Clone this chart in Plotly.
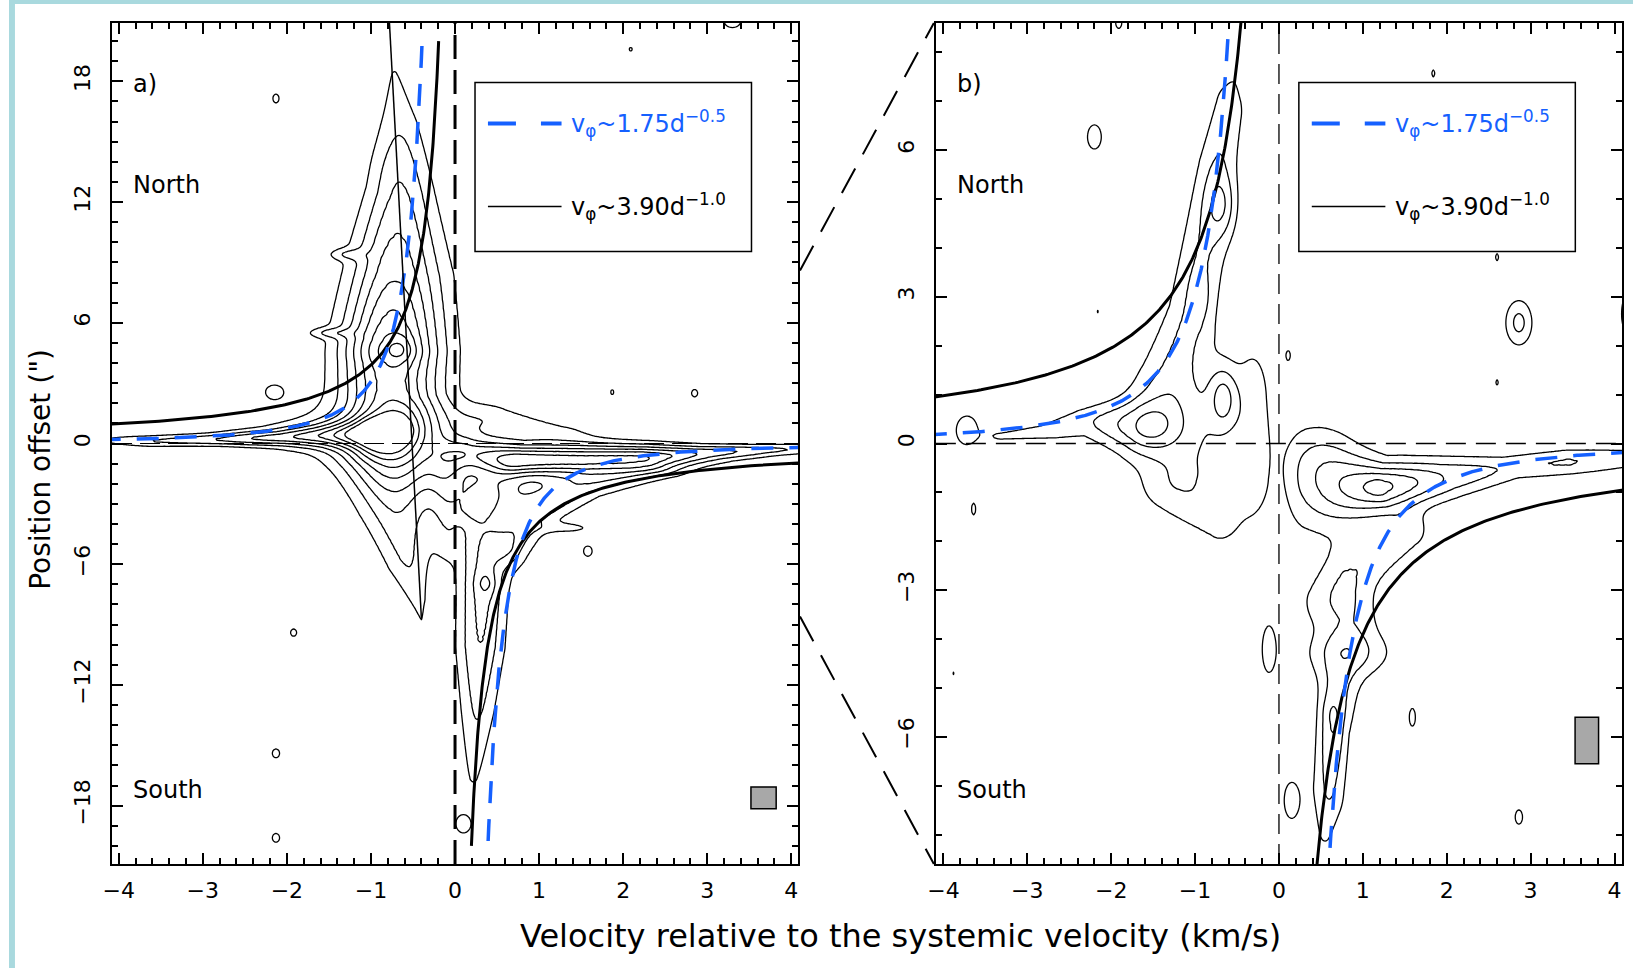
import numpy as np
import plotly.graph_objects as go

W, H = 1633, 968

# ------------------------------------------------------------------ data
x_ticks = [-4, -3, -2, -1, 0, 1, 2, 3, 4]
a_y_ticks = [-18, -12, -6, 0, 6, 12, 18]
b_y_ticks = [-6, -3, 0, 3, 6]

A_XRANGE = [-4.08, 4.08]
A_YRANGE = [-20.9, 20.9]
B_XRANGE = [-4.09, 4.09]
B_YRANGE = [-8.6, 8.6]

# rotation-curve models  v_phi = coef * d**pow
blue_model = (1.75, -0.5)
black_model = (3.90, -1.0)
model_dmax_a = 20.0
model_dmax_b = 8.7

# straight thin line in panel a (v, y)
thin_line_v = [-0.78, -0.40]
thin_line_y = [20.9, -8.7]

# beam boxes (v0, v1, y0, y1)
beam_a = [3.52, 3.82, -18.16, -17.07]
beam_b = [3.53, 3.81, -6.55, -5.60]

# emission structures read from the contour map:
# each is a ridge through nodes (v [km/s], offset ["], width_v, width_y, peak)
a_left_arm = [(-4.05, 0.15, 0.25, 0.22, 1.15), (-3.6, 0.12, 0.3, 0.22, 2.0),
              (-2.8, 0.2, 0.3, 0.22, 2.8), (-2.0, 0.3, 0.3, 0.28, 3.6),
              (-1.5, 0.4, 0.3, 0.4, 4.5), (-1.0, 0.5, 0.3, 0.55, 5.5)]
a_halo_w = [(-2.2, 0.35, 0.4, 0.45, 1.0), (-1.5, 0.5, 0.45, 0.9, 1.5),
            (-1.0, 0.6, 0.4, 1.3, 2.0)]
a_core = [(-0.65, 1.2, 0.3, 1.0, 2.5)]
a_north_arm = [(-0.45, -0.3, 0.4, 1.5, 3.0), (-0.7, 2.5, 0.42, 1.5, 4.5),
               (-0.72, 4.6, 0.4, 1.5, 6.8), (-0.65, 8.0, 0.37, 1.5, 4.5),
               (-0.62, 12.0, 0.26, 1.5, 3.0), (-0.66, 15.5, 0.2, 1.2, 1.8),
               (-0.72, 18.3, 0.1, 0.6, 1.05)]
a_north_halo = [(-1.05, 3.5, 0.3, 1.2, 0.9), (-0.95, 9.0, 0.25, 1.5, 0.8),
                (-0.85, 13.0, 0.2, 1.5, 0.5)]
a_north_peak = [(-0.65, 4.7, 0.12, 0.5, 1.2)]
a_spike1 = [(-1.5, 5.5, 0.18, 0.18, 1.5)]
a_spike2 = [(-1.3, 9.4, 0.15, 0.2, 1.3)]
a_south_v = [(-0.85, -0.8, 0.35, 0.8, 3.5), (-0.72, -3.0, 0.3, 1.0, 2.8),
             (-0.58, -5.5, 0.2, 1.0, 2.2), (-0.44, -7.7, 0.1, 0.6, 1.4),
             (-0.4, -8.7, 0.04, 0.3, 1.02)]
a_center_link = [(-0.1, -1.5, 0.15, 1.2, 1.8), (-0.1, -4.5, 0.12, 1.0, 1.3)]
a_right_arm = [(0.2, -0.5, 0.2, 0.6, 3.5), (0.75, -0.8, 0.35, 0.55, 6.6),
               (1.5, -0.8, 0.4, 0.55, 6.4), (2.2, -0.7, 0.4, 0.45, 6.1),
               (2.8, -0.5, 0.45, 0.3, 4.0), (3.5, -0.35, 0.4, 0.22, 2.6),
               (4.2, -0.25, 0.3, 0.2, 1.6)]
a_right_halo = [(0.4, 1.2, 0.3, 0.6, 1.6), (1.1, 0.6, 0.4, 0.4, 1.2)]
a_right_low = [(0.45, -2.3, 0.3, 0.8, 2.2), (0.25, -3.2, 0.2, 0.5, 1.4)]
a_se_wing = [(2.2, -1.4, 0.35, 0.3, 1.8), (1.4, -2.2, 0.3, 0.45, 2.6),
             (0.9, -3.5, 0.2, 0.6, 2.6), (0.65, -5.0, 0.17, 0.8, 2.6)]
a_se_spike = [(1.35, -4.2, 0.25, 0.2, 1.2)]
a_south_spur = [(0.3, -3.5, 0.2, 1.0, 2.2), (0.33, -7.0, 0.2, 1.0, 3.4),
                (0.3, -10.0, 0.2, 1.0, 3.0), (0.27, -13.0, 0.16, 1.0, 2.2),
                (0.22, -16.6, 0.1, 0.5, 1.1)]
a_spur_peak = [(0.37, -6.95, 0.07, 0.4, 1.0)]
a_noise = [(-2.13, 17.15, 0.05, 0.3, 1.3), (-2.15, 2.56, 0.12, 0.4, 1.4),
           (-1.92, -9.4, 0.05, 0.25, 1.3), (-2.13, -15.4, 0.06, 0.3, 1.3),
           (-2.13, -19.6, 0.06, 0.3, 1.3), (1.87, 2.55, 0.03, 0.2, 1.2),
           (2.85, 2.5, 0.05, 0.25, 1.3), (2.09, 19.6, 0.03, 0.15, 1.2),
           (1.58, -5.35, 0.07, 0.35, 1.3), (0.1, -18.9, 0.1, 0.5, 1.5),
           (3.3, 21.0, 0.12, 0.4, 1.4)]

b_far_left = [(-3.72, 0.27, 0.13, 0.3, 1.6)]
b_left_arm = [(-3.3, 0.15, 0.15, 0.1, 1.2), (-2.7, 0.25, 0.25, 0.15, 1.5),
              (-2.2, 0.45, 0.3, 0.25, 1.8), (-1.6, 0.35, 0.3, 0.4, 3.6)]
b_center = [(-1.0, 0.2, 0.45, 0.9, 1.7)]
b_center_low = [(-1.2, -0.9, 0.35, 0.45, 1.3), (-0.7, -1.6, 0.2, 0.4, 1.3)]
b_north = [(-1.3, 1.3, 0.28, 0.5, 1.8), (-1.05, 2.5, 0.22, 0.6, 2.2),
           (-0.9, 4.0, 0.2, 0.6, 2.1), (-0.75, 5.5, 0.18, 0.6, 2.0),
           (-0.6, 6.8, 0.15, 0.5, 1.7), (-0.55, 7.3, 0.1, 0.3, 1.05)]
b_north_peak1 = [(-0.68, 4.85, 0.12, 0.45, 1.7)]
b_north_peak2 = [(-0.94, 3.0, 0.07, 0.3, 0.8)]
b_inner = [(-0.66, 0.95, 0.12, 0.45, 2.5)]
b_right_band = [(-0.3, -0.8, 0.15, 0.6, 1.3), (-0.3, 1.0, 0.15, 0.8, 1.3)]
b_right_main = [(0.35, -0.9, 0.2, 0.7, 2.0), (1.18, -0.9, 0.3, 0.35, 5.5),
                (1.9, -0.7, 0.35, 0.3, 3.0), (2.7, -0.5, 0.3, 0.2, 1.8),
                (3.45, -0.38, 0.25, 0.2, 2.1), (4.2, -0.3, 0.3, 0.2, 1.3)]
b_right_halo = [(0.5, -0.2, 0.3, 0.5, 1.0)]
b_right_spike = [(1.46, 0.5, 0.08, 0.3, 0.9)]
b_right_tail = [(1.5, -1.8, 0.2, 0.3, 1.8), (0.8, -2.7, 0.2, 0.5, 1.8),
                (0.5, -3.2, 0.2, 0.4, 1.2)]
b_south = [(0.85, -3.6, 0.25, 0.5, 1.5), (0.75, -4.6, 0.2, 0.5, 1.6),
           (0.65, -5.6, 0.13, 0.6, 3.2), (0.6, -7.0, 0.14, 0.6, 2.2),
           (0.55, -7.95, 0.1, 0.3, 1.2)]
b_south_wide = [(0.85, -4.3, 0.4, 0.35, 1.5)]
b_south_left = [(0.15, -7.3, 0.12, 0.5, 1.3)]
b_island = [(-0.12, -4.2, 0.09, 0.55, 1.4)]
b_noise = [(-2.2, 6.27, 0.1, 0.3, 1.4), (1.84, 7.57, 0.03, 0.12, 1.2),
           (2.6, 3.81, 0.03, 0.12, 1.2), (2.86, 2.47, 0.12, 0.35, 2.3),
           (0.11, 1.8, 0.04, 0.15, 1.2), (2.6, 1.25, 0.03, 0.1, 1.15),
           (4.15, 2.65, 0.08, 0.45, 1.4), (-3.64, -1.34, 0.04, 0.2, 1.2),
           (1.59, -5.6, 0.05, 0.25, 1.3), (2.86, -7.64, 0.06, 0.2, 1.3),
           (-1.91, 8.6, 0.05, 0.15, 1.3), (3.35, -2.86, 0.02, 0.06, 1.1),
           (-3.88, -4.7, 0.02, 0.06, 1.1), (-2.16, 2.7, 0.02, 0.06, 1.1)]

contour_levels = dict(start=1, end=8, size=1)

A_FEATURES = [a_left_arm, a_halo_w, a_core, a_north_arm, a_north_halo, a_north_peak,
              a_spike1, a_spike2, a_south_v, a_center_link, a_right_arm, a_right_halo,
              a_right_low, a_se_wing, a_se_spike, a_south_spur, a_spur_peak] + [[n] for n in a_noise]
B_FEATURES = [b_far_left, b_left_arm, b_center, b_center_low, b_north, b_north_peak1,
              b_north_peak2, b_inner, b_right_band, b_right_main, b_right_halo,
              b_right_spike, b_right_tail, b_south, b_south_wide, b_south_left,
              b_island] + [[n] for n in b_noise]

# ------------------------------------------------------------------ layout geometry (pixels)
PANEL_A = (103.6, 23.0, 793.4, 864.0)   # left, top, right, bottom
PANEL_B = (932.0, 23.0, 1622.0, 864.0)
BLUE = "#1560ff"
FONT = "DejaVu Sans"


def px(x):
    return x / W


def py(y):
    return 1 - y / H


def build_map(vg, yg, features):
    Z = np.zeros((len(yg), len(vg)))
    for nodes in features:
        nodes = np.array(nodes, float)
        samples = [nodes[0]]
        for p, q in zip(nodes[:-1], nodes[1:]):
            n = int(np.ceil(max(abs(q[0] - p[0]) / (0.3 * min(p[2], q[2])),
                                abs(q[1] - p[1]) / (0.3 * min(p[3], q[3]))))) + 1
            t = np.linspace(0, 1, n)[1:]
            samples.extend(list(p + (q - p) * t[:, None]))
        S = np.array(samples)
        vmin = (S[:, 0] - 4.5 * S[:, 2]).min(); vmax = (S[:, 0] + 4.5 * S[:, 2]).max()
        ymin = (S[:, 1] - 4.5 * S[:, 3]).min(); ymax = (S[:, 1] + 4.5 * S[:, 3]).max()
        ix = np.where((vg >= vmin) & (vg <= vmax))[0]
        iy = np.where((yg >= ymin) & (yg <= ymax))[0]
        if len(ix) == 0 or len(iy) == 0:
            continue
        Vs, Ys = np.meshgrid(vg[ix], yg[iy])
        F = np.zeros_like(Vs)
        for s in S:
            F = np.maximum(F, s[4] * np.exp(-0.5 * (((Vs - s[0]) / s[2]) ** 2 +
                                                   ((Ys - s[1]) / s[3]) ** 2)))
        Z[np.ix_(iy, ix)] += F
    return Z


va = np.linspace(-4.2, 4.2, 421)
ya = np.linspace(-21.3, 21.3, 533)
vb = np.linspace(-4.2, 4.2, 421)
yb = np.linspace(-8.8, 8.8, 441)
Za = np.round(build_map(va, ya, A_FEATURES), 3)
Zb = np.round(build_map(vb, yb, B_FEATURES), 3)

fig = go.Figure()


def add_contour(vg, yg, Z, xa, ya_):
    fig.add_trace(go.Contour(
        x=vg, y=yg, z=Z, xaxis=xa, yaxis=ya_,
        contours=dict(coloring="lines", showlabels=False, **contour_levels),
        colorscale=[[0, "black"], [1, "black"]], showscale=False,
        line=dict(width=1.3, smoothing=1.0), hoverinfo="skip"))


add_contour(va, ya, Za, "x", "y")
add_contour(vb, yb, Zb, "x2", "y2")


def add_models(xa, ya_, dmax, blue_w, black_w):
    d = np.geomspace(0.02, dmax, 500)
    for (coef, pw), style in ((black_model, dict(color="black", width=black_w)),
                              (blue_model, dict(color=BLUE, width=blue_w, dash="22px,16px"))):
        v = coef * d ** pw
        # north side: approaching (negative v); south side: receding
        fig.add_trace(go.Scatter(x=-v, y=d, mode="lines", line=style, xaxis=xa, yaxis=ya_,
                                 hoverinfo="skip", showlegend=False))
        fig.add_trace(go.Scatter(x=v, y=-d, mode="lines", line=style, xaxis=xa, yaxis=ya_,
                                 hoverinfo="skip", showlegend=False))


add_models("x", "y", model_dmax_a, 3.5, 3)
add_models("x2", "y2", model_dmax_b, 3.5, 3)

# reference lines (systemic velocity / centre)
fig.add_trace(go.Scatter(x=[0, 0], y=A_YRANGE, mode="lines", xaxis="x", yaxis="y",
                         line=dict(color="black", width=3, dash="24px,11px"),
                         hoverinfo="skip", showlegend=False))
fig.add_trace(go.Scatter(x=A_XRANGE, y=[0, 0], mode="lines", xaxis="x", yaxis="y",
                         line=dict(color="black", width=1.2, dash="20px,8px"),
                         hoverinfo="skip", showlegend=False))
fig.add_trace(go.Scatter(x=thin_line_v, y=thin_line_y, mode="lines", xaxis="x", yaxis="y",
                         line=dict(color="black", width=1.5),
                         hoverinfo="skip", showlegend=False))
fig.add_trace(go.Scatter(x=[0, 0], y=B_YRANGE, mode="lines", xaxis="x2", yaxis="y2",
                         line=dict(color="black", width=1.3, dash="20px,10px"),
                         hoverinfo="skip", showlegend=False))
fig.add_trace(go.Scatter(x=B_XRANGE, y=[0, 0], mode="lines", xaxis="x2", yaxis="y2",
                         line=dict(color="black", width=1.3, dash="20px,10px"),
                         hoverinfo="skip", showlegend=False))

shapes = []
# beams
for (v0, v1, y0, y1), xr, yr in ((beam_a, "x", "y"), (beam_b, "x2", "y2")):
    shapes.append(dict(type="rect", xref=xr, yref=yr, x0=v0, x1=v1, y0=y0, y1=y1,
                       fillcolor="#a8a8a8", line=dict(color="black", width=1.5), layer="above"))

annotations = []
for (L, T, R, B) in (PANEL_A, PANEL_B):
    # legend box
    bx0, by0 = L + 365, T + 59.5
    shapes.append(dict(type="rect", xref="paper", yref="paper",
                       x0=px(bx0), x1=px(bx0 + 278), y0=py(by0), y1=py(by0 + 169),
                       line=dict(color="black", width=1.5), fillcolor="rgba(0,0,0,0)", layer="above"))
    shapes.append(dict(type="line", xref="paper", yref="paper",
                       x0=px(bx0 + 13), x1=px(bx0 + 87), y0=py(by0 + 41), y1=py(by0 + 41),
                       line=dict(color=BLUE, width=4, dash="28px,25px"), layer="above"))
    shapes.append(dict(type="line", xref="paper", yref="paper",
                       x0=px(bx0 + 13), x1=px(bx0 + 87), y0=py(by0 + 124), y1=py(by0 + 124),
                       line=dict(color="black", width=1.5), layer="above"))
    annotations.append(dict(xref="paper", yref="paper", x=px(bx0 + 95), y=py(by0 + 41),
                            xanchor="left", yanchor="middle", showarrow=False,
                            text="v<sub>φ</sub>~%.2fd<sup>−%.1f</sup>" % (blue_model[0], -blue_model[1]),
                            font=dict(family=FONT, size=24, color=BLUE)))
    annotations.append(dict(xref="paper", yref="paper", x=px(bx0 + 95), y=py(by0 + 124),
                            xanchor="left", yanchor="middle", showarrow=False,
                            text="v<sub>φ</sub>~%.2fd<sup>−%.1f</sup>" % (black_model[0], -black_model[1]),
                            font=dict(family=FONT, size=24, color="black")))
    for txt, yy in ((None, 84), ("North", 185), ("South", 790)):
        if txt is None:
            txt = "a)" if L < 500 else "b)"
        annotations.append(dict(xref="paper", yref="paper", x=px(L + 19), y=py(yy),
                                xanchor="left", yanchor="middle", showarrow=False, text=txt,
                                font=dict(family=FONT, size=24, color="black")))

# zoom connector lines (panel a window of panel b's offset range -> panel b corners)
a_frac_top = (B_YRANGE[1] - A_YRANGE[0]) / (A_YRANGE[1] - A_YRANGE[0])
a_frac_bot = (B_YRANGE[0] - A_YRANGE[0]) / (A_YRANGE[1] - A_YRANGE[0])
ya_top_px = PANEL_A[3] - a_frac_top * (PANEL_A[3] - PANEL_A[1])
ya_bot_px = PANEL_A[3] - a_frac_bot * (PANEL_A[3] - PANEL_A[1])
for y_from, y_to in ((ya_top_px, PANEL_B[1]), (ya_bot_px, PANEL_B[3])):
    shapes.append(dict(type="line", xref="paper", yref="paper",
                       x0=px(PANEL_A[2] + 2), y0=py(y_from), x1=px(PANEL_B[0] - 2), y1=py(y_to),
                       line=dict(color="black", width=2, dash="28px,16px")))

# light-blue frame of the original image
shapes.append(dict(type="rect", xref="paper", yref="paper", x0=0, x1=1, y0=py(4), y1=1,
                   fillcolor="#a9d9de", line=dict(width=0)))
shapes.append(dict(type="rect", xref="paper", yref="paper", x0=0, x1=px(6), y0=0, y1=1,
                   fillcolor="#a9d9de", line=dict(width=0)))

annotations.append(dict(xref="paper", yref="paper", x=px(896), y=py(936), xanchor="center",
                        yanchor="middle", showarrow=False,
                        text="Velocity relative to the systemic velocity (km/s)",
                        font=dict(family=FONT, size=32, color="black")))
annotations.append(dict(xref="paper", yref="paper", x=px(31), y=py(469), xanchor="center",
                        yanchor="middle", showarrow=False, textangle=-90,
                        text="Position offset (\")",
                        font=dict(family=FONT, size=28, color="black")))


def xaxis_cfg(panel, rng):
    L, T, R, B = panel
    return dict(domain=[px(L), px(R)], range=rng, tickvals=x_ticks, ticks="inside",
                ticklen=11, tickwidth=2, tickcolor="black", mirror="allticks",
                showline=True, linewidth=2, linecolor="black", showgrid=False,
                zeroline=False, tickfont=dict(family=FONT, size=22, color="black"),
                minor=dict(dtick=0.2, ticks="inside", ticklen=6, tickwidth=1.5,
                           tickcolor="black", showgrid=False),
                ticklabelstandoff=6, fixedrange=True)


def yaxis_cfg(panel, rng, ticks, minor):
    L, T, R, B = panel
    return dict(domain=[py(B), py(T)], range=rng, tickvals=ticks, ticks="inside",
                ticklen=11, tickwidth=2, tickcolor="black", mirror="allticks",
                showline=True, linewidth=2, linecolor="black", showgrid=False,
                zeroline=False, tickangle=-90,
                tickfont=dict(family=FONT, size=22, color="black"),
                minor=dict(dtick=minor, ticks="inside", ticklen=6, tickwidth=1.5,
                           tickcolor="black", showgrid=False),
                ticklabelstandoff=11, fixedrange=True)


fig.update_layout(
    width=W, height=H, margin=dict(l=0, r=0, t=0, b=0),
    paper_bgcolor="white", plot_bgcolor="white", showlegend=False,
    xaxis=dict(anchor="y", **xaxis_cfg(PANEL_A, A_XRANGE)),
    yaxis=dict(anchor="x", **yaxis_cfg(PANEL_A, A_YRANGE, a_y_ticks, 1)),
    xaxis2=dict(anchor="y2", **xaxis_cfg(PANEL_B, B_XRANGE)),
    yaxis2=dict(anchor="x2", **yaxis_cfg(PANEL_B, B_YRANGE, b_y_ticks, 1)),
    shapes=shapes, annotations=annotations,
)

fig.write_html("out.html",
               post_script="document.body.style.margin='0px';document.body.style.padding='0px';")
